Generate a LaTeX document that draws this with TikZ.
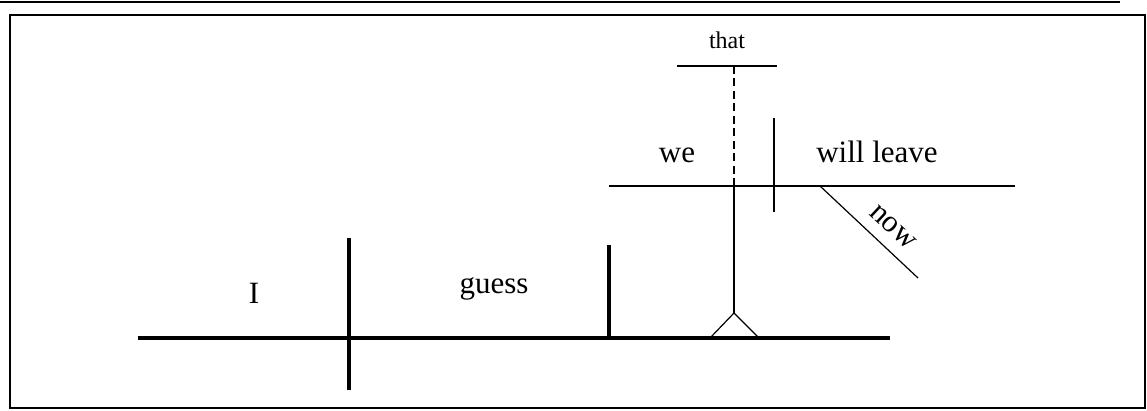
\documentclass[tikz,border=0pt]{standalone}
\usepackage{fontspec}
\setmainfont{Liberation Serif}
\begin{document}
\begin{tikzpicture}[x=1pt,y=-1pt,
  heavy/.style={line width=3.3pt},
  light/.style={line width=1.2pt},
  frame/.style={line width=2pt},
  word/.style={inner sep=0pt,anchor=base,font=\fontsize{31}{34}\selectfont},
  smallword/.style={inner sep=0pt,anchor=base,font=\fontsize{24}{27}\selectfont}]
\useasboundingbox (0,0) rectangle (1147,410);

% page rule and frame
\coordinate (ruleL) at (0,1.5);
\coordinate (ruleR) at (1120,1.5);
\draw[frame] (ruleL) -- (ruleR);
\coordinate (frameA) at (10,15);
\coordinate (frameB) at (1145,408);
\draw[frame] (frameA) rectangle (frameB);

% main clause: I guess ...
\coordinate (baseL) at (138,338);
\coordinate (baseR) at (890,338);
\coordinate (subjT) at (349,238);
\coordinate (subjB) at (349,390);
\coordinate (objT) at (609,245);
\coordinate (objB) at (609,338);
\draw[heavy] (baseL) -- (baseR);
\draw[heavy] (subjT) -- (subjB);
\draw[heavy] (objT) -- (objB);
\node[word] (subj) at (254,303) {I};
\node[word] (verb) at (494,293) {guess};

% pedestal carrying the noun clause
\coordinate (pedL) at (710,338);
\coordinate (pedTop) at (734,313);
\coordinate (pedR) at (759,338);
\coordinate (clauseJoin) at (734,186);
\draw[light] (pedL) -- (pedTop) -- (pedR);
\draw[light] (pedTop) -- (clauseJoin);

% noun clause: we will leave now
\coordinate (clL) at (609,186);
\coordinate (clR) at (1015,186);
\coordinate (clDivT) at (774,118);
\coordinate (clDivB) at (774,212);
\draw[light] (clL) -- (clR);
\draw[light] (clDivT) -- (clDivB);
\node[word] (we) at (677,162) {we};
\node[word] (willleave) at (877,162) {will leave};

% adverb
\coordinate (advA) at (820,186);
\coordinate (advB) at (918,278);
\draw[light] (advA) -- (advB);
\node[inner sep=0pt,font=\fontsize{31}{34}\selectfont,rotate=-43] (now) at (893,227) {now};

% subordinating conjunction
\coordinate (thatL) at (677,66);
\coordinate (thatR) at (777,66);
\coordinate (thatJoin) at (734,66);
\draw[light] (thatL) -- (thatR);
\draw[light,dash pattern=on 8pt off 4.5pt] (clauseJoin) -- (thatJoin);
\node[smallword] (that) at (727,48) {that};
\end{tikzpicture}
\end{document}
